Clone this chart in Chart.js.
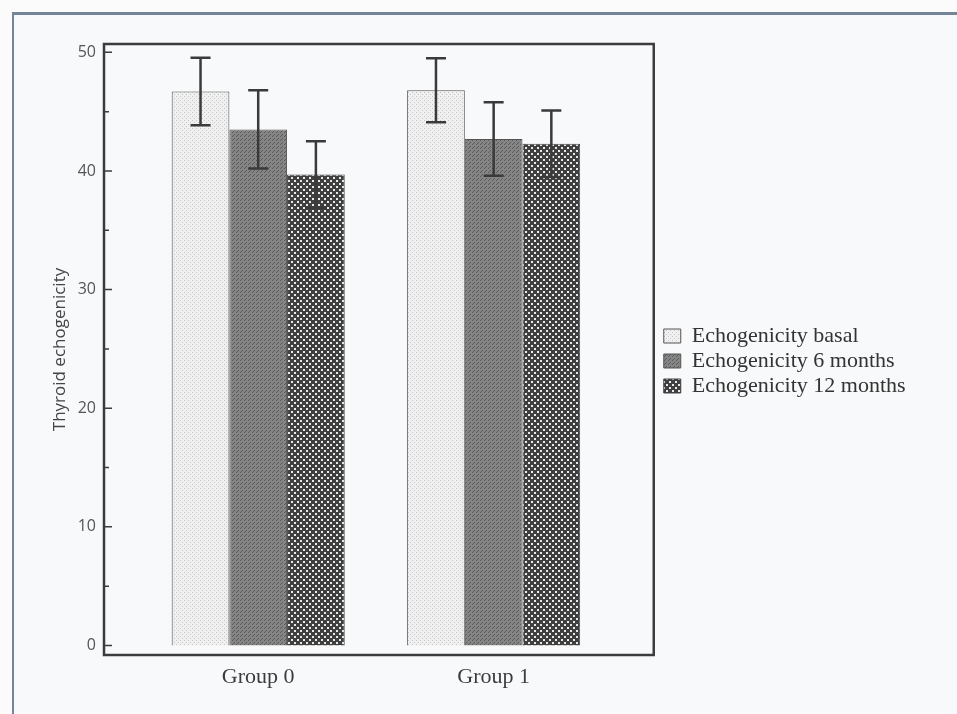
<!DOCTYPE html>
<html>
<head>
<meta charset="utf-8">
<script src="https://cdn.jsdelivr.net/npm/chart.js@4.4.0/dist/chart.umd.min.js"></script>
<style>
  html, body { margin: 0; padding: 0; background: #fcfbfc; }
  #wrap { position: relative; width: 957px; height: 714px; overflow: hidden; }
  #paper { position: absolute; left: 12px; top: 12px; width: 960px; height: 720px;
           background: #f8f9fa; border-left: 2px solid #74859a; border-top: 3px solid #74859a; }
  canvas { position: absolute; left: 0; top: 0; }
</style>
</head>
<body>
<div id="wrap">
  <div id="paper"></div>
  <canvas id="myChart" width="957" height="714"></canvas>
</div>
<script>
const groups = ['Group 0', 'Group 1'];
const seriesNames = ['Echogenicity basal', 'Echogenicity 6 months', 'Echogenicity 12 months'];
const basal = [46.7, 46.8];
const months6 = [43.5, 42.7];
const months12 = [39.7, 42.3];
const basalErr = [2.85, 2.7];
const months6Err = [3.3, 3.1];
const months12Err = [2.8, 2.8];
const yTicks = [0, 10, 20, 30, 40, 50];
const yMinorTicks = [5, 15, 25, 35, 45];

// little tiles to fake the printed hatchings
function makePattern(size, base, dot, cells) {
    const c = document.createElement('canvas');
    c.width = size; c.height = size;
    const g = c.getContext('2d');
    g.fillStyle = base;
    g.fillRect(0, 0, size, size);
    g.fillStyle = dot;
    cells.forEach(p => g.fillRect(p[0], p[1], p[2], p[3]));
    return g.createPattern(c, 'repeat');
}
const pBasal = makePattern(4, '#f0f0f0', '#c4c4c4', [[0, 0, 1, 1], [2, 2, 1, 1]]);
const p6 = makePattern(4, '#858585', '#5a5a5a', [[0, 0, 1, 1], [2, 2, 1, 1], [1, 3, 1, 1]]);
const p12 = makePattern(6, '#3f3f3f', '#e8e8e8', [[0, 0, 2, 2], [3, 3, 2, 2]]);

const toPoints = arr => arr.map((v, i) => ({ x: i, y: v }));

const errorBars = {
    id: 'errorBars',
    afterDatasetsDraw(chart) {
        const ctx = chart.ctx;
        const y = chart.scales.y;
        const errs = [basalErr, months6Err, months12Err];
        ctx.save();
        ctx.strokeStyle = '#3a3a3a';
        ctx.lineWidth = 2.5;
        chart.data.datasets.forEach((ds, di) => {
            const meta = chart.getDatasetMeta(di);
            meta.data.forEach((bar, i) => {
                const v = ds.data[i].y;
                const hi = y.getPixelForValue(v + errs[di][i]);
                const lo = y.getPixelForValue(v - errs[di][i]);
                ctx.beginPath();
                ctx.moveTo(bar.x, hi); ctx.lineTo(bar.x, lo);
                ctx.moveTo(bar.x - 10, hi); ctx.lineTo(bar.x + 10, hi);
                ctx.moveTo(bar.x - 10, lo); ctx.lineTo(bar.x + 10, lo);
                ctx.stroke();
            });
        });
        ctx.restore();
    }
};

const frameBox = {
    id: 'frameBox',
    afterDraw(chart) {
        const ctx = chart.ctx;
        const a = chart.chartArea;
        const y = chart.scales.y;
        ctx.save();
        ctx.strokeStyle = '#3c3c3c';
        ctx.lineWidth = 2.5;
        ctx.strokeRect(a.left, a.top, a.right - a.left, a.bottom - a.top);
        ctx.lineWidth = 1.5;
        ctx.beginPath();
        yTicks.forEach(t => { const p = y.getPixelForValue(t); ctx.moveTo(a.left, p); ctx.lineTo(a.left + 8, p); });
        yMinorTicks.forEach(t => { const p = y.getPixelForValue(t); ctx.moveTo(a.left, p); ctx.lineTo(a.left + 5, p); });
        ctx.stroke();
        ctx.restore();
    }
};

// legend box gets squeezed by the layout, give it room to the right edge
const wideLegend = {
    id: 'wideLegend',
    afterLayout(chart) {
        const l = chart.legend;
        l.left += 7;
        l.right = chart.width;
        l.width = l.right - l.left;
        l.top -= 9;
        l.bottom -= 9;
    }
};

const ctx = document.getElementById('myChart');

new Chart(ctx, {
    type: 'bar',
    data: {
        datasets: [{
            label: seriesNames[0],
            data: toPoints(basal),
            backgroundColor: pBasal,
            borderColor: '#555',
            borderWidth: 1,
        }, {
            label: seriesNames[1],
            data: toPoints(months6),
            backgroundColor: p6,
            borderColor: '#555',
            borderWidth: 1,
        }, {
            label: seriesNames[2],
            data: toPoints(months12),
            backgroundColor: p12,
            borderColor: '#444',
            borderWidth: 1,
        }]
    },
    plugins: [errorBars, frameBox, wideLegend],
    options: {
        responsive: false,
        animation: false,
        categoryPercentage: 0.735,
        barPercentage: 1,
        layout: {
            padding: { left: 38, top: 44, right: 98, bottom: 18 }
        },
        scales: {
            x: {
                type: 'linear',
                offset: false,
                min: -0.655,
                max: 1.68,
                afterBuildTicks: s => { s.ticks = groups.map((g, i) => ({ value: i })); },
                afterFit: s => { s.height = 41; },
                ticks: {
                    callback: v => groups[v],
                    color: '#3c3c3c',
                    padding: 9,
                    font: { family: 'Liberation Serif', size: 22 },
                },
                grid: { display: false, drawTicks: false, offset: false },
                border: { display: false },
            },
            y: {
                min: -0.8,
                max: 50.7,
                afterBuildTicks: s => { s.ticks = yTicks.map(v => ({ value: v })); },
                afterFit: s => { s.width = 66; },
                ticks: {
                    color: '#555',
                    padding: 8,
                    font: { family: 'Open Sans', size: 16 },
                },
                title: {
                    display: true,
                    text: 'Thyroid echogenicity',
                    color: '#444',
                    padding: { top: 12, bottom: 4 },
                    font: { family: 'Open Sans', size: 17 },
                },
                grid: { display: false, drawTicks: false },
                border: { display: false },
            }
        },
        plugins: {
            legend: {
                position: 'right',
                labels: {
                    color: '#333',
                    boxWidth: 17,
                    boxHeight: 14,
                    padding: 3,
                    font: { family: 'Liberation Serif', size: 22 },
                }
            },
            tooltip: { enabled: false },
        },
    }
});
</script>
</body>
</html>
